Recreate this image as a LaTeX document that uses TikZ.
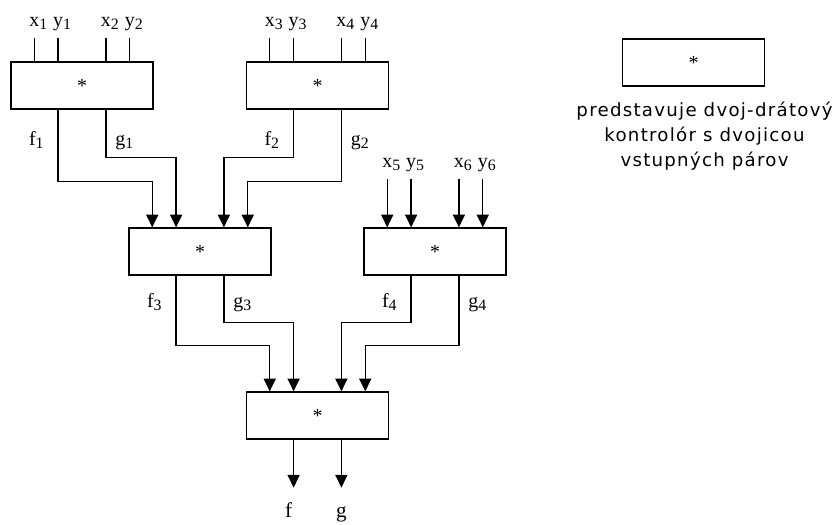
\documentclass[tikz,border=0pt]{standalone}
\usepackage{fontspec}
\setmainfont{Liberation Serif}
\newfontfamily\legendfont[LetterSpace=7]{DejaVu Sans}
\usetikzlibrary{positioning,calc,arrows.meta}

\newcommand{\sig}[2]{#1\raisebox{-0.3ex}{\fontsize{13.5}{13.5}\selectfont #2}}

\begin{document}
\begin{tikzpicture}[x=0.03cm, y=-0.03cm,
ctrlbox/.style={rectangle, draw, line width=1.1pt, minimum width=4.26cm, minimum height=1.41cm, inner sep=0pt, font=\fontsize{17}{17}\selectfont},
wire/.style={line width=1.1pt},
arr/.style={wire, -{Triangle[length=0.38cm,width=0.36cm]}},
inlbl/.style={anchor=base, yshift=0.36cm, xshift=0.12cm, font=\fontsize{17}{17}\selectfont},
flbl/.style={anchor=base east, xshift=-0.3cm, font=\fontsize{17}{17}\selectfont},
glbl/.style={anchor=base west, xshift=0.15cm, font=\fontsize{17}{17}\selectfont},
outlbl/.style={anchor=base, yshift=-0.9cm, font=\fontsize{18}{18}\selectfont},
legendtxt/.style={align=center, inner sep=0pt, font=\legendfont\fontsize{15.5}{21.3}\selectfont}
]
\useasboundingbox (0,0) rectangle (835,524);

%Nodes
\node[ctrlbox] at (82,85.5) (K1) {*};
\node[ctrlbox] at (317.5,85.5) (K2) {*};
\node[ctrlbox] at (200,251.5) (K3) {*};
\node[ctrlbox] at (435,251.5) (K4) {*};
\node[ctrlbox] at (317.5,415.5) (K5) {*};

\node[ctrlbox] at (693.5,62.5) (legend) {*};
\node[legendtxt, below=0.45cm of legend, xshift=0.33cm] (legendtext) {predstavuje dvoj-drátový\\kontrolór s dvojicou\\vstupných párov};

%Lines
\draw[wire] ($(K1.north west)!1/6!(K1.north east)$) -- ++(0,-23) node[inlbl] (x1) {\sig{x}{1}};
\draw[wire] ($(K1.north west)!2/6!(K1.north east)$) -- ++(0,-23) node[inlbl] (y1) {\sig{y}{1}};
\draw[wire] ($(K1.north west)!4/6!(K1.north east)$) -- ++(0,-23) node[inlbl] (x2) {\sig{x}{2}};
\draw[wire] ($(K1.north west)!5/6!(K1.north east)$) -- ++(0,-23) node[inlbl] (y2) {\sig{y}{2}};
\draw[wire] ($(K2.north west)!1/6!(K2.north east)$) -- ++(0,-23) node[inlbl] (x3) {\sig{x}{3}};
\draw[wire] ($(K2.north west)!2/6!(K2.north east)$) -- ++(0,-23) node[inlbl] (y3) {\sig{y}{3}};
\draw[wire] ($(K2.north west)!4/6!(K2.north east)$) -- ++(0,-23) node[inlbl] (x4) {\sig{x}{4}};
\draw[wire] ($(K2.north west)!5/6!(K2.north east)$) -- ++(0,-23) node[inlbl] (y4) {\sig{y}{4}};

\draw[arr] ($(K4.north west)!1/6!(K4.north east)+(0,-48)$) node[inlbl] (x5) {\sig{x}{5}} -- ++(0,48);
\draw[arr] ($(K4.north west)!2/6!(K4.north east)+(0,-48)$) node[inlbl] (y5) {\sig{y}{5}} -- ++(0,48);
\draw[arr] ($(K4.north west)!4/6!(K4.north east)+(0,-48)$) node[inlbl] (x6) {\sig{x}{6}} -- ++(0,48);
\draw[arr] ($(K4.north west)!5/6!(K4.north east)+(0,-48)$) node[inlbl] (y6) {\sig{y}{6}} -- ++(0,48);

\draw[arr] ($(K1.south west)!2/6!(K1.south east)$) -- node[pos=0.5, flbl] (f1) {\sig{f}{1}} ++(0,72) -| ($(K3.north west)!1/6!(K3.north east)$);
\draw[arr] ($(K1.south west)!4/6!(K1.south east)$) -- node[pos=0.75, glbl] (g1) {\sig{g}{1}} ++(0,48) -| ($(K3.north west)!2/6!(K3.north east)$);
\draw[arr] ($(K2.south west)!2/6!(K2.south east)$) -- node[pos=0.75, flbl] (f2) {\sig{f}{2}} ++(0,48) -| ($(K3.north west)!4/6!(K3.north east)$);
\draw[arr] ($(K2.south west)!4/6!(K2.south east)$) -- node[pos=0.5, glbl] (g2) {\sig{g}{2}} ++(0,72) -| ($(K3.north west)!5/6!(K3.north east)$);

\draw[arr] ($(K3.south west)!2/6!(K3.south east)$) -- node[pos=0.46, flbl] (f3) {\sig{f}{3}} ++(0,70) -| ($(K5.north west)!1/6!(K5.north east)$);
\draw[arr] ($(K3.south west)!4/6!(K3.south east)$) -- node[pos=0.68, glbl] (g3) {\sig{g}{3}} ++(0,47) -| ($(K5.north west)!2/6!(K5.north east)$);
\draw[arr] ($(K4.south west)!2/6!(K4.south east)$) -- node[pos=0.68, flbl] (f4) {\sig{f}{4}} ++(0,47) -| ($(K5.north west)!4/6!(K5.north east)$);
\draw[arr] ($(K4.south west)!4/6!(K4.south east)$) -- node[pos=0.46, glbl] (g4) {\sig{g}{4}} ++(0,70) -| ($(K5.north west)!5/6!(K5.north east)$);

\draw[arr] ($(K5.south west)!2/6!(K5.south east)$) -- ++(0,48) node[outlbl, xshift=-0.15cm] (f) {f};
\draw[arr] ($(K5.south west)!4/6!(K5.south east)$) -- ++(0,48) node[outlbl] (g) {g};

\end{tikzpicture}
\end{document}
